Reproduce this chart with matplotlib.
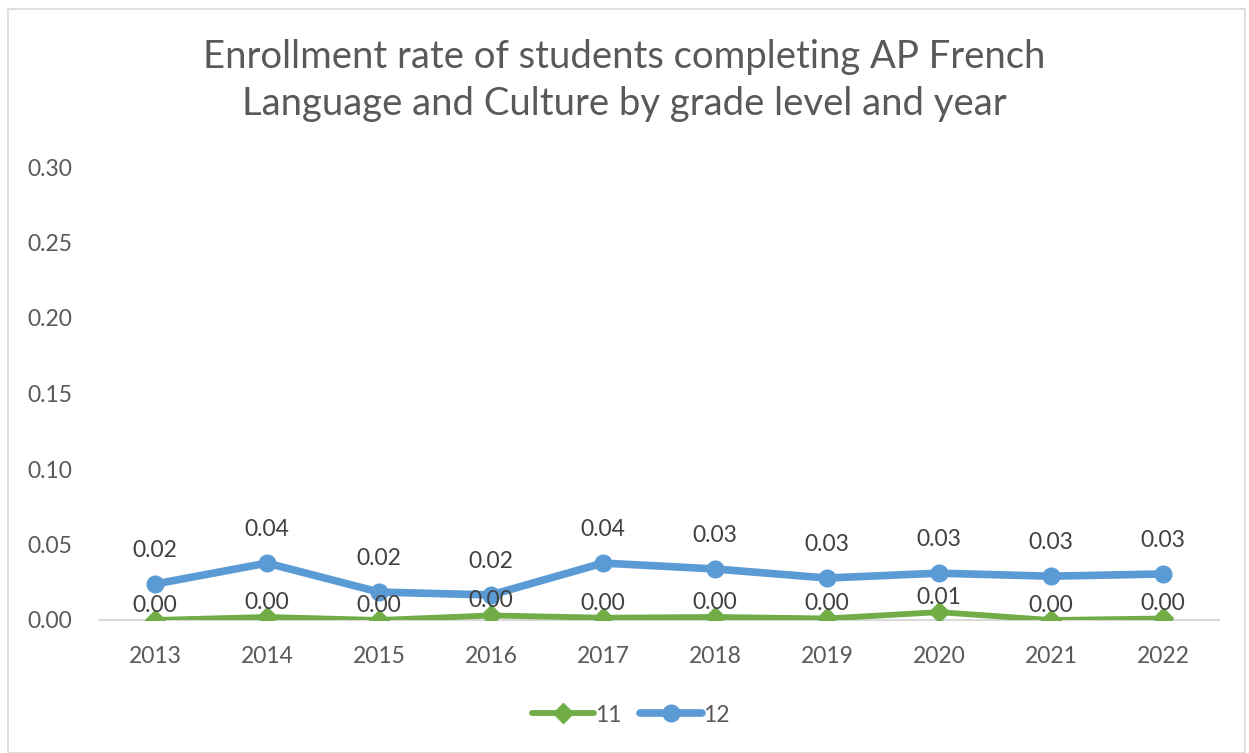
import matplotlib
matplotlib.use('Agg')
import matplotlib.pyplot as plt
import numpy as np
from matplotlib.patches import Rectangle

plt.rcParams['font.family'] = ['Lato', 'DejaVu Sans']

years = ['2013', '2014', '2015', '2016', '2017', '2018', '2019', '2020', '2021', '2022']
grade_11 = [0.000, 0.002, 0.000, 0.003, 0.0015, 0.002, 0.001, 0.0052, 0.000, 0.001]
grade_12 = [0.0238, 0.0377, 0.0185, 0.0166, 0.0377, 0.0338, 0.0278, 0.031, 0.029, 0.0305]
yticks = [0.00, 0.05, 0.10, 0.15, 0.20, 0.25, 0.30]

green = '#70AD47'
blue = '#5B9BD5'
txt = '#595959'
fs = 16.5

fig = plt.figure(figsize=(12.49, 7.53), dpi=100)
W, H = 1249, 753
# plot area in pixels: left, top, right, bottom
ax = fig.add_axes([99 / W, 1 - 620 / H, (1219 - 99) / W, (620 - 167) / H])

x = np.arange(len(years))
ax.plot(x, grade_11, color=green, lw=4.2, marker='D', ms=10, label='11', zorder=3,
        solid_capstyle='round')
ax.plot(x, grade_12, color=blue, lw=5.5, marker='o', ms=12, label='12', zorder=4,
        solid_capstyle='round')

# data labels sit on top of the lines, like excel
for i in range(len(years)):
    ax.annotate('%.2f' % grade_12[i], (x[i], grade_12[i]), xytext=(0, 24),
                textcoords='offset points', ha='center', va='center',
                fontsize=fs, color='#404040', zorder=6)
    ax.annotate('%.2f' % grade_11[i], (x[i], grade_11[i]), xytext=(0, 10.5),
                textcoords='offset points', ha='center', va='center',
                fontsize=fs, color='#404040', zorder=6)

ax.set_xlim(-0.5, len(years) - 0.5)
ax.set_ylim(0, 0.30)
ax.set_yticks(yticks)
ax.set_yticklabels(['%.2f' % v for v in yticks])
ax.set_xticks(x)
ax.set_xticklabels(years)
ax.tick_params(axis='both', length=0, labelsize=fs, colors=txt)
ax.tick_params(axis='x', pad=19)
ax.tick_params(axis='y', pad=19)
for s in ['top', 'right', 'left']:
    ax.spines[s].set_visible(False)
ax.spines['bottom'].set_color('#D9D9D9')
ax.spines['bottom'].set_linewidth(1.5)
ax.spines['bottom'].set_zorder(1)

fig.text(0.5, 1 - 57 / H, 'Enrollment rate of students completing AP French',
         ha='center', va='center', fontsize=27.5, color=txt)
fig.text(0.5, 1 - 104 / H, 'Language and Culture by grade level and year',
         ha='center', va='center', fontsize=27.5, color=txt)

fig.legend(loc='center', bbox_to_anchor=(0.505, 1 - 715 / H), ncol=2, frameon=False,
           fontsize=fs, labelcolor=txt, handlelength=2.7, columnspacing=0.8,
           handletextpad=0.05)

fig.patches.append(Rectangle((8 / W, 0), 1 - 12 / W, 1 - 9 / H, transform=fig.transFigure,
                             fill=False, edgecolor='#D9D9D9', lw=1.2))

fig.savefig('out.png', dpi=100)
